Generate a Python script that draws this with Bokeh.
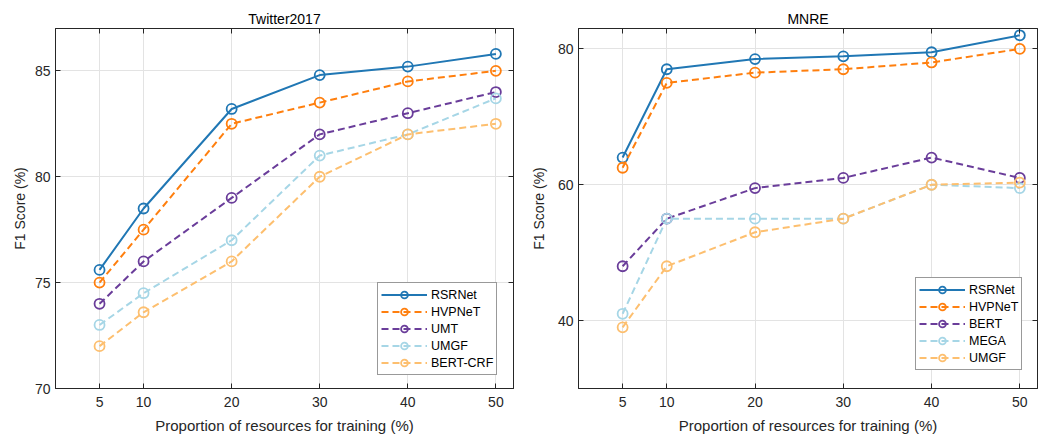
from bokeh.plotting import figure
from bokeh.layouts import row
from bokeh.models import LinearAxis, FixedTicker, Range1d, Legend
from bokeh.embed import file_html
from bokeh.resources import INLINE

# ---------------- data ----------------
x_vals = [5, 10, 20, 30, 40, 50]

tw_title = "Twitter2017"
tw_names = ["RSRNet", "HVPNeT", "UMT", "UMGF", "BERT-CRF"]
tw_rsrnet = [75.6, 78.5, 83.2, 84.8, 85.2, 85.8]
tw_hvpnet = [75.0, 77.5, 82.5, 83.5, 84.5, 85.0]
tw_umt = [74.0, 76.0, 79.0, 82.0, 83.0, 84.0]
tw_umgf = [73.0, 74.5, 77.0, 81.0, 82.0, 83.7]
tw_bertcrf = [72.0, 73.6, 76.0, 80.0, 82.0, 82.5]
tw_yticks = [70, 75, 80, 85]

mn_title = "MNRE"
mn_names = ["RSRNet", "HVPNeT", "BERT", "MEGA", "UMGF"]
mn_rsrnet = [64.0, 77.0, 78.5, 78.9, 79.5, 82.0]
mn_hvpnet = [62.5, 75.0, 76.5, 77.0, 78.0, 80.0]
mn_bert = [48.0, 55.0, 59.5, 61.0, 64.0, 61.0]
mn_mega = [41.0, 55.0, 55.0, 55.0, 60.0, 59.5]
mn_umgf = [39.0, 48.0, 53.0, 55.0, 60.0, 60.3]
mn_yticks = [40, 60, 80]

x_label = "Proportion of resources for training (%)"
y_label = "F1 Score (%)"

# ---------------- styles ----------------
colors = ["#2077b4", "#ff7f0e", "#6a3d9a", "#a6d6e6", "#fdbf6f"]
dashes = ["solid", "7 4", "7 4", "7 4", "7 4"]
FONT = "Liberation Sans"
AX = "#262626"
GRID = "#e3e3e3"


def style_axis(ax, show_labels=True):
    ax.axis_line_color = AX
    ax.axis_line_width = 1
    ax.major_tick_line_color = AX
    ax.major_tick_in = 5
    ax.major_tick_out = 0
    ax.minor_tick_line_color = None
    ax.major_label_text_font = FONT
    ax.major_label_text_color = AX
    ax.axis_label_text_font = FONT
    ax.axis_label_text_color = AX
    ax.axis_label_text_font_style = "normal"
    if show_labels:
        ax.major_label_text_font_size = "14px"
    else:
        ax.major_label_text_font_size = "0px"
        ax.major_label_text_color = None
        ax.major_label_standoff = 0


def make_panel(title, names, series, yr, yticks, width, bl, br, leg_pos, ylab_standoff):
    p = figure(width=width, height=436, output_backend="svg", toolbar_location=None,
               x_range=Range1d(0, 52), y_range=Range1d(*yr),
               min_border_left=bl, min_border_right=br,
               min_border_top=28, min_border_bottom=47)
    p.title.text = title
    p.title.align = "center"
    p.title.text_font = FONT
    p.title.text_font_size = "14px"
    p.title.text_font_style = "normal"
    p.title.text_color = "#000000"
    p.title.standoff = 4
    p.title.offset = 0
    p.outline_line_color = AX
    p.outline_line_width = 1
    p.background_fill_color = "white"
    p.border_fill_color = "white"

    p.xaxis.ticker = FixedTicker(ticks=x_vals)
    p.yaxis.ticker = FixedTicker(ticks=yticks)
    p.xaxis.axis_label = x_label
    p.yaxis.axis_label = y_label
    style_axis(p.xaxis[0])
    style_axis(p.yaxis[0])
    p.xaxis.axis_label_text_font_size = "15px"
    p.yaxis.axis_label_text_font_size = "14px"
    p.xaxis.major_label_standoff = 8
    p.xaxis.axis_label_standoff = 7
    p.yaxis.major_label_standoff = 5
    p.yaxis.axis_label_standoff = ylab_standoff

    top = LinearAxis(ticker=FixedTicker(ticks=x_vals))
    style_axis(top, False)
    right = LinearAxis(ticker=FixedTicker(ticks=yticks))
    style_axis(right, False)
    p.add_layout(top, "above")
    p.add_layout(right, "right")

    p.xgrid.ticker = FixedTicker(ticks=x_vals)
    p.ygrid.ticker = FixedTicker(ticks=yticks)
    p.grid.grid_line_color = GRID
    p.grid.grid_line_width = 1

    items = []
    for name, ys, c, d in zip(names, series, colors, dashes):
        l = p.line(x_vals, ys, line_color=c, line_width=2, line_dash=d)
        s = p.scatter(x_vals, ys, marker="circle", size=10, fill_color=None,
                      line_color=c, line_width=1.8)
        items.append((name, [l, s]))

    leg = Legend(items=items, location=leg_pos)
    leg.margin = 0
    leg.padding = 3
    leg.spacing = 0
    leg.label_height = 17
    leg.glyph_height = 17
    leg.glyph_width = 46
    leg.label_standoff = 4
    leg.label_text_font = FONT
    leg.label_text_font_size = "12.5px"
    leg.label_text_color = "#000000"
    leg.border_line_color = "#333333"
    leg.border_line_width = 1
    leg.background_fill_color = "white"
    leg.background_fill_alpha = 1
    p.add_layout(leg, "center")
    return p


p1 = make_panel(tw_title, tw_names,
                [tw_rsrnet, tw_hvpnet, tw_umt, tw_umgf, tw_bertcrf],
                (70, 87), tw_yticks, 527, 55, 14, (322, 13), 4)
p2 = make_panel(mn_title, mn_names,
                [mn_rsrnet, mn_hvpnet, mn_bert, mn_mega, mn_umgf],
                (30, 83), mn_yticks, 514, 50, 4, (337, 18), 8)

layout = row(p1, p2)
open("out.html", "w").write(file_html(layout, INLINE))
